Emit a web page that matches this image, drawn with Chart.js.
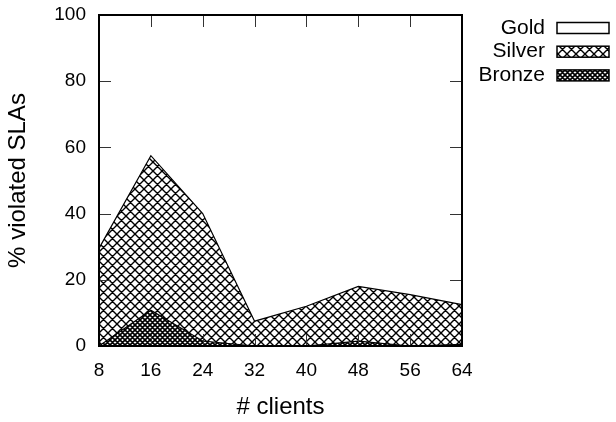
<!DOCTYPE html>
<html>
<head>
<meta charset="utf-8">
<script src="https://cdn.jsdelivr.net/npm/chart.js@4/dist/chart.umd.min.js"></script>
<style>
  html, body { margin: 0; padding: 0; background: #fff; }
  #wrap { width: 616px; height: 422px; }
</style>
</head>
<body>
<div id="wrap"><canvas id="slaChart" width="616" height="422"></canvas></div>
<script>
// ===== 데이터 =====
const clients = ['8', '16', '24', '32', '40', '48', '56', '64'];
const goldValues = [0, 0, 0, 0, 0, 0.4, 0, 0];
const silverValues = [29.5, 57.5, 40, 7.5, 12, 18, 15.5, 12.5];
const bronzeValues = [0, 10.8, 1.5, 0, 0, 1.5, 0, 0.5];
const yTicks = [0, 20, 40, 60, 80, 100];
const legendNames = ['Gold', 'Silver', 'Bronze'];

const FONT = 'Liberation Sans, Arial, sans-serif';

// ===== 해칭 패턴 (흰 바탕 + 대각 교차선) =====
function makeHatch(period, lineWidth) {
    const c = document.createElement('canvas');
    c.width = period;
    c.height = period;
    const g = c.getContext('2d');
    g.fillStyle = '#fff';
    g.fillRect(0, 0, period, period);
    g.strokeStyle = '#000';
    g.lineWidth = lineWidth;
    g.beginPath();
    for (let k = -1; k <= 1; k++) {
        g.moveTo(k * period, 0);
        g.lineTo(k * period + period, period);
        g.moveTo(k * period, period);
        g.lineTo(k * period + period, 0);
    }
    g.stroke();
    return g.createPattern(c, 'repeat');
}

const ctx = document.getElementById('slaChart').getContext('2d');
const silverPattern = makeHatch(9, 1.4);
const bronzePattern = makeHatch(5, 1.7);
const fills = ['#fff', silverPattern, bronzePattern];

// ===== 테두리 + 안쪽 눈금 =====
const framePlugin = {
    id: 'frame',
    afterDatasetsDraw(chart) {
        const { left, right, top, bottom } = chart.chartArea;
        const c = chart.ctx;
        const xs = chart.scales.x;
        const ys = chart.scales.y;
        const len = 12;
        c.save();
        c.strokeStyle = '#333';
        c.lineWidth = 1;
        c.beginPath();
        yTicks.forEach(v => {
            const y = Math.round(ys.getPixelForValue(v)) + 0.5;
            c.moveTo(left, y); c.lineTo(left + len, y);
            c.moveTo(right, y); c.lineTo(right - len, y);
        });
        clients.forEach((_, i) => {
            const x = Math.round(xs.getPixelForValue(i)) + 0.5;
            c.moveTo(x, bottom); c.lineTo(x, bottom - len);
            c.moveTo(x, top); c.lineTo(x, top + len);
        });
        c.stroke();
        c.strokeStyle = '#000';
        c.lineWidth = 2;
        c.strokeRect(left, top, right - left, bottom - top);
        c.restore();
    }
};

// ===== 범례 (텍스트 오른쪽 정렬 + 상자) =====
const legendPlugin = {
    id: 'sideLegend',
    afterDraw(chart) {
        const c = chart.ctx;
        c.save();
        c.font = '21px ' + FONT;
        c.textAlign = 'right';
        c.textBaseline = 'middle';
        c.fillStyle = '#000';
        legendNames.forEach((name, i) => {
            const cy = 28 + i * 23.7;
            c.fillText(name, 545, cy);
            c.fillStyle = fills[i];
            c.fillRect(557, cy - 5.5, 52, 11);
            c.fillStyle = '#000';
            c.lineWidth = 1.5;
            c.strokeRect(557, cy - 5.5, 52, 11);
        });
        c.restore();
    }
};

function areaSet(label, data, fill, order) {
    return {
        label: label,
        data: data,
        fill: 'origin',
        backgroundColor: fill,
        borderColor: '#000',
        borderWidth: 1.2,
        pointRadius: 0,
        tension: 0,
        order: order
    };
}

new Chart(ctx, {
    type: 'line',
    data: {
        labels: clients,
        datasets: [
            areaSet(legendNames[0], goldValues, fills[0], 3),
            areaSet(legendNames[1], silverValues, fills[1], 2),
            areaSet(legendNames[2], bronzeValues, fills[2], 1)
        ]
    },
    options: {
        responsive: false,
        animation: false,
        layout: { padding: { top: 15, right: 154, bottom: 0, left: 0 } },
        plugins: { legend: { display: false }, tooltip: { enabled: false } },
        scales: {
            x: {
                offset: false,
                grid: { display: false, drawTicks: false },
                border: { display: false },
                ticks: { color: '#000', font: { family: FONT, size: 19 }, padding: 13, maxRotation: 0 },
                title: { display: true, text: '# clients', color: '#000', font: { family: FONT, size: 24 }, padding: { top: 4, bottom: 0 } },
                afterFit(scale) {
                    scale.height = 76;
                    scale.paddingLeft = 0;
                    scale.paddingRight = 0;
                }
            },
            y: {
                min: 0,
                max: 100,
                grid: { display: false, drawTicks: false },
                border: { display: false },
                ticks: { stepSize: 20, color: '#000', font: { family: FONT, size: 19 }, padding: 13 },
                title: { display: true, text: '% violated SLAs', color: '#000', font: { family: FONT, size: 24 }, padding: { top: 4, bottom: 0 } },
                afterFit(scale) {
                    scale.width = 99;
                    scale.paddingTop = 0;
                    scale.paddingBottom = 0;
                }
            }
        }
    },
    plugins: [framePlugin, legendPlugin]
});
</script>
</body>
</html>
